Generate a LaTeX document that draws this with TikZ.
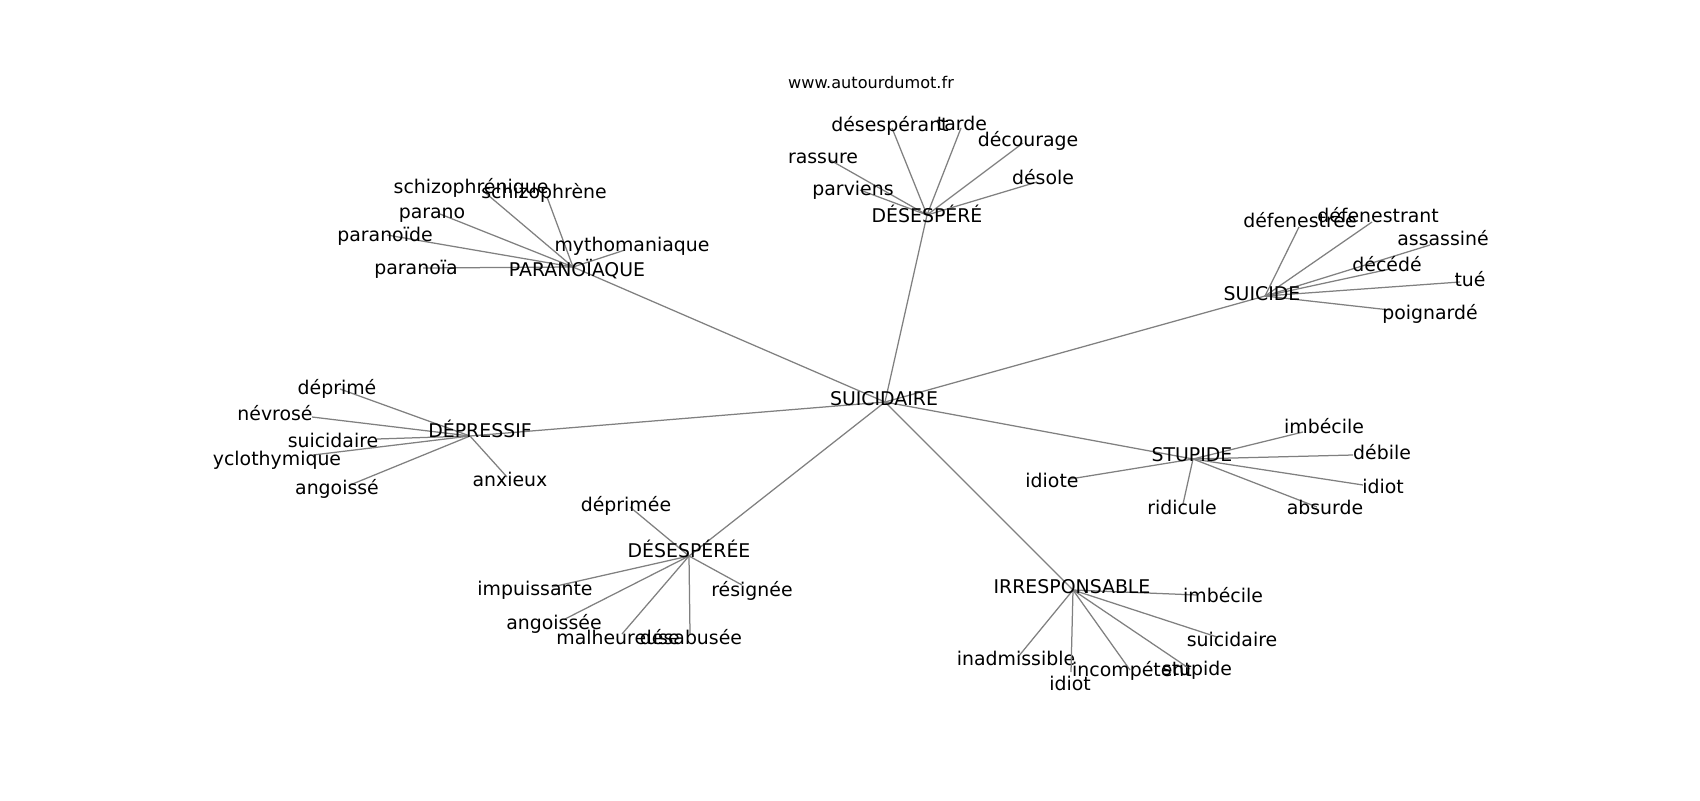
\documentclass[tikz,border=0pt]{standalone}
\usepackage{fontspec}
\setmainfont{DejaVu Sans}
\begin{document}
\begin{tikzpicture}[x=0.72pt,y=-0.72pt,
  lbl/.style={inner sep=0pt,text height=0.74em,text depth=0.22em,yshift=-2.9pt,font=\fontsize{13.6}{16}\selectfont,text=black},
  web/.style={inner sep=0pt,font=\fontsize{11.6}{14}\selectfont,text=black},
  edge/.style={draw=gray,line width=0.9pt}]
\fill[white] (0,0) rectangle (1700,800);
\useasboundingbox (0,0) rectangle (1700,800);
\newcommand{\wleaf}[7]{%
  \coordinate (#2) at (#3,#4);
  \draw[edge] (#1) -- (#2);
  \node[lbl] (#2-t) at (#5,#6) {#7};
}
\newcommand{\whub}[5]{%
  \coordinate (#1) at (#2,#3);
  \draw[edge] (suicidaire) -- (#1);
}
% main hub
\coordinate (suicidaire) at (885,402);
\whub{paranoiaque}{573}{267}{}{}
\whub{desespere}{927}{215}{}{}
\whub{suicide}{1265}{296}{}{}
\whub{depressif}{470}{436}{}{}
\whub{desesperee}{689}{556}{}{}
\whub{stupide}{1193}{459}{}{}
\whub{irresp}{1073}{590}{}{}
% PARANOIAQUE
\wleaf{paranoiaque}{p1}{482}{190}{471}{186}{schizophrénique}
\wleaf{paranoiaque}{p2}{547}{197}{544}{191}{schizophrène}
\wleaf{paranoiaque}{p3}{440}{214}{432}{211}{parano}
\wleaf{paranoiaque}{p4}{387}{235}{385}{234}{paranoïde}
\wleaf{paranoiaque}{p5}{423}{268}{416}{267}{paranoïa}
\wleaf{paranoiaque}{p6}{625}{250}{632}{244}{mythomaniaque}
% DESESPERE
\wleaf{desespere}{d1}{892}{128}{890}{124}{désespérant}
\wleaf{desespere}{d2}{961}{128}{962}{123}{tarde}
\wleaf{desespere}{d3}{1023}{143}{1028}{139}{décourage}
\wleaf{desespere}{d4}{830}{160}{823}{156}{rassure}
\wleaf{desespere}{d5}{860}{190}{853}{188}{parviens}
\wleaf{desespere}{d6}{1037}{182}{1043}{177}{désole}
% SUICIDE
\wleaf{suicide}{s1}{1299}{227}{1300}{220}{défenestrée}
\wleaf{suicide}{s2}{1372}{222}{1378}{215}{défenestrant}
\wleaf{suicide}{s3}{1430}{245}{1443}{238}{assassiné}
\wleaf{suicide}{s4}{1390}{269}{1387}{264}{décédé}
\wleaf{suicide}{s5}{1460}{282}{1470}{279}{tué}
\wleaf{suicide}{s6}{1390}{310}{1430}{312}{poignardé}
% DEPRESSIF
\wleaf{depressif}{e1}{340}{389}{337}{387}{déprimé}
\wleaf{depressif}{e2}{312}{417}{275}{413}{névrosé}
\wleaf{depressif}{e3}{377}{439}{333}{440}{suicidaire}
\wleaf{depressif}{e4}{313}{455}{277}{458}{yclothymique}
\wleaf{depressif}{e5}{350}{485}{337}{487}{angoissé}
\wleaf{depressif}{e6}{507}{477}{510}{479}{anxieux}
% DESESPEREE
\wleaf{desesperee}{f1}{630}{507}{626}{504}{déprimée}
\wleaf{desesperee}{f2}{552}{587}{535}{588}{impuissante}
\wleaf{desesperee}{f3}{742}{585}{752}{589}{résignée}
\wleaf{desesperee}{f4}{565}{619}{554}{622}{angoissée}
\wleaf{desesperee}{f5}{622}{634}{618}{637}{malheureuse}
\wleaf{desesperee}{f6}{690}{634}{691}{637}{désabusée}
% STUPIDE
\wleaf{stupide}{t1}{1303}{432}{1324}{426}{imbécile}
\wleaf{stupide}{t2}{1353}{455}{1382}{452}{débile}
\wleaf{stupide}{t3}{1363}{485}{1383}{486}{idiot}
\wleaf{stupide}{t4}{1317}{507}{1325}{507}{absurde}
\wleaf{stupide}{t5}{1183}{504}{1182}{507}{ridicule}
\wleaf{stupide}{t6}{1070}{479}{1052}{480}{idiote}
% IRRESPONSABLE
\wleaf{irresp}{i1}{1197}{595}{1223}{595}{imbécile}
\wleaf{irresp}{i2}{1217}{637}{1232}{639}{suicidaire}
\wleaf{irresp}{i3}{1018}{657}{1016}{658}{inadmissible}
\wleaf{irresp}{i4}{1071}{672}{1070}{683}{idiot}
\wleaf{irresp}{i5}{1130}{670}{1132}{669}{incompétent}
\wleaf{irresp}{i6}{1190}{669}{1197}{668}{stupide}
% hub labels
\node[lbl] (suicidaire-t) at (884,398) {SUICIDAIRE};
\node[lbl] (paranoiaque-t) at (577,269) {PARANOÏAQUE};
\node[lbl] (desespere-t) at (927,215) {DÉSESPÉRÉ};
\node[lbl] (suicide-t) at (1262,293) {SUICIDE};
\node[lbl] (depressif-t) at (480,430) {DÉPRESSIF};
\node[lbl] (desesperee-t) at (689,550) {DÉSESPÉRÉE};
\node[lbl] (stupide-t) at (1192,454) {STUPIDE};
\node[lbl] (irresp-t) at (1072,586) {IRRESPONSABLE};
\node[web] (www) at (871,82) {www.autourdumot.fr};
\end{tikzpicture}
\end{document}
